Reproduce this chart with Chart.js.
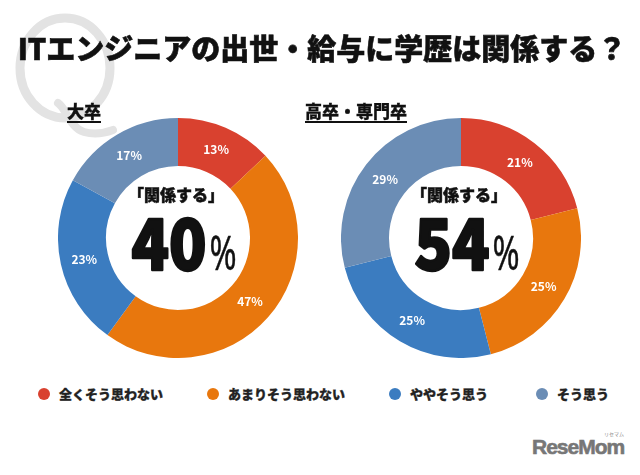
<!DOCTYPE html>
<html><head><meta charset="utf-8">
<script src="https://cdn.jsdelivr.net/npm/chart.js@4/dist/chart.umd.min.js"></script>
<style>
html,body{margin:0;padding:0;background:#fff;}
#wrap{position:relative;width:640px;height:475px;overflow:hidden;font-family:"Noto Sans CJK JP","Noto Sans",sans-serif;}
.abs{position:absolute;}
#title{left:0;width:644px;top:33px;text-align:center;font-size:29px;line-height:29px;font-weight:900;color:#111;white-space:nowrap;-webkit-text-stroke:0.6px #111;}
.sub{top:102px;font-size:17px;line-height:17px;font-weight:900;color:#111;text-decoration:underline;text-underline-offset:3px;text-decoration-thickness:2px;-webkit-text-stroke:0.3px #111;}
canvas{position:absolute;}
#legend{left:0;top:383px;width:640px;height:22px;}
.li{position:absolute;top:0;font-size:13px;font-weight:900;color:#222;white-space:nowrap;line-height:22px;-webkit-text-stroke:0.3px #222;}
.dot{display:inline-block;width:12px;height:12px;border-radius:50%;vertical-align:-1px;margin-right:9px;-webkit-text-stroke:0;}
#logo{left:532px;top:435px;font-family:"Liberation Sans",sans-serif;font-weight:700;font-size:21px;line-height:24px;color:#777;letter-spacing:-1px;-webkit-text-stroke:0.6px #777;}
#logoS{left:604px;top:431px;font-size:5px;line-height:6px;color:#888;}
</style></head>
<body><div id="wrap">
<canvas id="qc" width="160" height="160" style="left:0;top:0;width:160px;height:160px;"></canvas>
<div id="title" class="abs">ITエンジニアの出世・給与に学歴は関係する？</div>
<div class="abs sub" id="s1" style="left:67px;">大卒</div>
<div class="abs sub" id="s2" style="left:305px;">高卒・専門卒</div>
<canvas id="c1" width="240" height="240" style="left:58px;top:118px;width:240px;height:240px;"></canvas>
<canvas id="c2" width="240" height="240" style="left:341px;top:118px;width:240px;height:240px;"></canvas>
<div id="legend" class="abs"></div>
<div id="logo" class="abs">ReseMom</div>
<div id="logoS" class="abs">リセマム</div>
</div>
<script>
const categories = ["全くそう思わない","あまりそう思わない","ややそう思う","そう思う"];
const univValues = [13,47,23,17];
const highValues = [21,25,25,29];
const univRelated = "40";
const highRelated = "54";
const centerLabel = "「関係する」";
const colors = ["#d9412f","#e8770d","#3b7cc0","#6b8db5"];
const legendX = [38,207,389,536];

// decorative watermark "Q"
(function(){
  const c = document.getElementById('qc').getContext('2d');
  c.strokeStyle = '#e3e3e3';
  c.lineWidth = 9;
  c.beginPath();
  c.ellipse(65, 68, 45, 50, 0, 0, Math.PI*2);
  c.stroke();
  c.lineWidth = 8;
  c.lineCap = 'round';
  c.beginPath();
  c.moveTo(58, 103);
  c.bezierCurveTo(66, 108, 70, 128, 84, 132);
  c.bezierCurveTo(95, 135, 105, 133, 113, 130);
  c.stroke();
})();

const lg = document.getElementById('legend');
categories.forEach((c,i)=>{
  const d = document.createElement('div');
  d.className='li';
  d.style.left = legendX[i]+'px';
  d.innerHTML = '<span class="dot" style="background:'+colors[i]+'"></span>'+c;
  lg.appendChild(d);
});

function scaledText(ctx, txt, x, y, sx, stroke){
  ctx.save();
  ctx.translate(x, y);
  ctx.scale(sx, 1);
  ctx.fillText(txt, 0, 0);
  if(stroke){ ctx.lineWidth = stroke; ctx.strokeStyle = ctx.fillStyle; ctx.lineJoin='round'; ctx.strokeText(txt,0,0); }
  ctx.restore();
}

const labelPlugin = {
  id:'labels',
  afterDatasetsDraw(chart){
    const ctx = chart.ctx;
    const meta = chart.getDatasetMeta(0);
    const ds = chart.data.datasets[0];
    ctx.save();
    ctx.fillStyle='#fff';
    ctx.font='bold 12px "Noto Sans CJK JP", sans-serif';
    ctx.textAlign='center';ctx.textBaseline='middle';
    meta.data.forEach((arc,i)=>{
      const p = arc.tooltipPosition();
      ctx.fillText(ds.data[i]+'%', p.x, p.y);
    });
    const cx=(chart.chartArea.left+chart.chartArea.right)/2;
    const cy=(chart.chartArea.top+chart.chartArea.bottom)/2;
    ctx.fillStyle='#111';
    ctx.font='900 16px "Noto Sans CJK JP", sans-serif';
    ctx.fillText(centerLabel, cx-2, cy-43);
    ctx.lineWidth=0.5; ctx.strokeStyle='#111'; ctx.strokeText(centerLabel, cx-2, cy-43);
    const big = chart.options.plugins.labels.big;
    const sBig = 0.88, sPct = 0.68;
    ctx.font='900 70px "Noto Sans CJK JP", sans-serif';
    const w1 = ctx.measureText(big).width*sBig;
    ctx.font='400 48px "Noto Sans", sans-serif';
    const w2 = ctx.measureText('%').width*sPct;
    const x0 = cx + 6 - (w1+w2+3)/2;
    ctx.textAlign='left';ctx.textBaseline='alphabetic';
    ctx.font='900 70px "Noto Sans CJK JP", sans-serif';
    scaledText(ctx, big, x0, cy+32, sBig, 2.5);
    ctx.font='400 48px "Noto Sans", sans-serif';
    scaledText(ctx, '%', x0+w1+3, cy+32, sPct, 0.5);
    ctx.restore();
  }
};

function make(id, vals, big){
  return new Chart(document.getElementById(id),{
    type:'doughnut',
    data:{labels:categories,datasets:[{data:vals,backgroundColor:colors,borderWidth:0}]},
    options:{
      responsive:false,animation:false,cutout:'60%',
      layout:{padding:0},
      plugins:{legend:{display:false},tooltip:{enabled:false},labels:{big:big}},
    },
    plugins:[labelPlugin]
  });
}
make('c1', univValues, univRelated);
make('c2', highValues, highRelated);
</script>
</body></html>
